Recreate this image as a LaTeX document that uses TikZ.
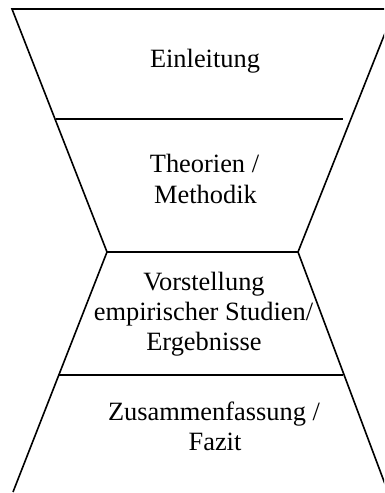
\documentclass[tikz,border=0pt]{standalone}
\usepackage{fontspec}
\setmainfont{Liberation Serif}
\begin{document}
\begin{tikzpicture}[x=1pt,y=-1pt,
  edge/.style={line width=1.6pt, line join=miter},
  lbl/.style={anchor=base, inner sep=0pt, font=\fontsize{26.4}{30.5}\selectfont}]
\useasboundingbox (0,0) rectangle (384,493);
\clip (0,0) rectangle (384,493);
% hourglass corners
\coordinate (tl) at (12,9);
\coordinate (tr) at (394.6,9);
\coordinate (wl) at (107,252);
\coordinate (wr) at (298,252);
\coordinate (bl) at (13,492);
\coordinate (br) at (388,492);
% divider ends
\coordinate (d1l) at (56,119);
\coordinate (d1r) at (343,119);
\coordinate (d3l) at (58,375);
\coordinate (d3r) at (343,375);
% outline
\draw[edge] (bl) -- (wl) -- (tl) -- (tr) -- (wr) -- (br);
\draw[edge] (d1l) -- (d1r);
\draw[edge] (wl) -- (wr);
\draw[edge] (d3l) -- (d3r);
% labels
\node[lbl] (einl) at (205,67) {Einleitung};
\node[lbl] (theo) at (204.5,172) {Theorien /};
\node[lbl] (meth) at (205.5,203) {Methodik};
\node[lbl] (vors) at (204,290) {Vorstellung};
\node[lbl] (empi) at (203.5,320) {empirischer Studien/};
\node[lbl] (ergb) at (204,350) {Ergebnisse};
\node[lbl] (zusa) at (214,420) {Zusammenfassung /};
\node[lbl] (fazi) at (215,450) {Fazit};
\end{tikzpicture}
\end{document}
